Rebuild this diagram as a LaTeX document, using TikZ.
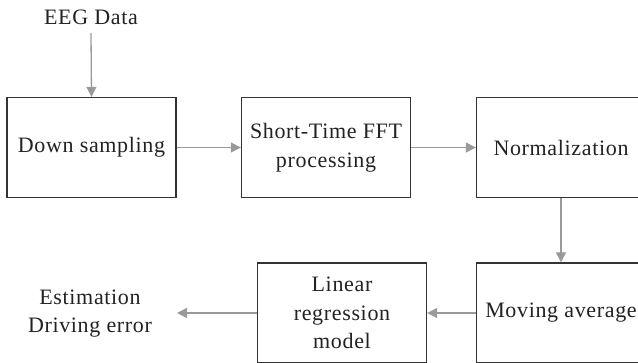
\documentclass[tikz,border=0pt]{standalone}
\usepackage{fontspec}
\setmainfont{Liberation Serif}[LetterSpace=3]
\usetikzlibrary{arrows.meta}
\definecolor{boxline}{HTML}{333333}
\definecolor{arrowgray}{HTML}{9A9A9A}
\definecolor{txt}{HTML}{222222}
\begin{document}
\begin{tikzpicture}[x=1pt,y=-1pt,
  blockbox/.style={draw=boxline,line width=1.4pt,minimum width=169pt,minimum height=100pt,inner sep=0pt,align=center,text=txt,font=\rmfamily\fontsize{22}{28.5}\selectfont},
  plain/.style={align=center,text=txt,font=\rmfamily\fontsize{22}{28}\selectfont},
  flow/.style={draw=arrowgray,line width=1.3pt,-{Triangle[length=10pt,width=10pt]}}]
\clip (0,0) rectangle (638,363);
\fill[white] (0,0) rectangle (638,363);
\node[plain] (eeg) at (91,17) {EEG Data};
\node[blockbox] (down) at (91.5,147.5) {Down sampling};
\node[blockbox] (fft) at (326,147.5) {Short-Time FFT\\processing};
\node[blockbox] (norm) at (561,147.5) {Normalization};
\node[blockbox] (mov) at (561,313) {Moving average};
\node[blockbox] (lin) at (342,313) {Linear\\regression\\model};
\node[plain] (est) at (90,314) {Estimation\\Driving error};
\draw[flow] (eeg.south |- 0,33) -- (down.north);
\draw[flow] (down) -- (fft);
\draw[flow] (fft) -- (norm);
\draw[flow] (norm) -- (mov);
\draw[flow] (mov) -- (lin);
\draw[flow] (lin.west) -- (177,313);
\end{tikzpicture}
\end{document}
